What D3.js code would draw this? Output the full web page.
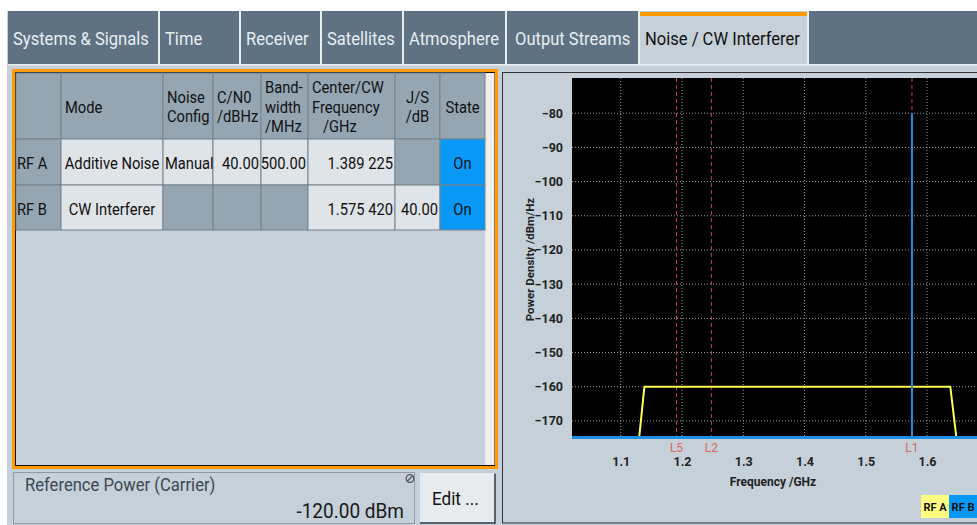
<!DOCTYPE html>
<html><head><meta charset="utf-8">
<script src="https://cdn.jsdelivr.net/npm/d3@7/dist/d3.min.js"></script>
<style>html,body{margin:0;padding:0;background:#fff;overflow:hidden}svg{display:block;font-family:Roboto,"Noto Sans",sans-serif}</style>
</head><body><svg id="c" width="977" height="525"></svg>
<script>
// ---------- data ----------
const tabs = ["Systems & Signals","Time","Receiver","Satellites","Atmosphere","Output Streams","Noise / CW Interferer"];
const activeTab = "Noise / CW Interferer";
const headers = [[""],["Mode"],["Noise","Config"],["C/N0","/dBHz"],["Band-","width","/MHz"],["Center/CW","Frequency","\u00a0\u00a0\u00a0/GHz"],["J/S","/dB"],["State"]];
const rowRFA = ["RF A","Additive Noise","Manual","40.00","500.00","1.389 225","","On"];
const rowRFB = ["RF B","CW Interferer","","","","1.575 420","40.00","On"];
const refPowerLabel = "Reference Power (Carrier)";
const refPowerValue = "-120.00 dBm";
const editLabel = "Edit ...";
const xTicks = [1.1,1.2,1.3,1.4,1.5,1.6];
const yTicks = [-80,-90,-100,-110,-120,-130,-140,-150,-160,-170];
const rfAFreq = [1.130,1.1386,1.638,1.648];
const rfAPower = [-175,-160,-160,-175];
const rfBFreq = [1.0204,1.57542,1.57542,1.57542,1.7583];
const rfBPower = [-175,-175,-80,-175,-175];
const markerNames = ["L5","L2","L1"];
const markerFreq = [1.191,1.248,1.5754];
const legendNames = ["RF A","RF B"];

// ---------- drawing ----------
const svg = d3.select("#c");
const C = {slate:"#5e7283", bg:"#c5d0d8", hdr:"#95a6b2", light:"#dfe4e8", on:"#0a98f7", orange:"#ff9a00"};

function txt(g, x, y, s, o){
  o = o||{};
  return g.append("text").attr("transform",`translate(${x},${y}) scale(${o.sx||1},1)`)
    .attr("text-anchor",o.anchor||"start").attr("font-size",o.size||15)
    .attr("font-weight",o.weight||"normal").attr("fill",o.fill||"#111").text(s);
}

svg.append("rect").attr("width",977).attr("height",525).attr("fill","#fff");
svg.append("rect").attr("x",8).attr("y",11).attr("width",969).attr("height",514).attr("fill",C.bg);
svg.append("line").attr("x1",7.5).attr("x2",7.5).attr("y1",11).attr("y2",525).attr("stroke","#c9d0d5");

// tabs
const tabEdges = [8,160,241,322,404,507,640,809];
svg.append("rect").attr("x",8).attr("y",11).attr("width",969).attr("height",53).attr("fill",C.slate);
const tg = svg.append("g");
tabs.forEach((t,i)=>{
  const x0 = tabEdges[i], x1 = tabEdges[i+1]-2;
  const act = t===activeTab;
  tg.append("rect").attr("x",x0).attr("y",11).attr("width",x1-x0).attr("height",53).attr("fill",act?C.bg:C.slate);
  if(act) tg.append("rect").attr("x",x0).attr("y",12).attr("width",x1-x0).attr("height",4).attr("fill",C.orange);
  const w = x1-x0;
  txt(tg, x0+(w>125&&!act&&i>0?8:5), 45, t, {size:18, sx:0.92, fill:act?"#111":"#e8eef2"});
});
tabEdges.slice(1).forEach(e=>svg.append("rect").attr("x",e-2).attr("y",11).attr("width",2).attr("height",53).attr("fill","#e9eef1"));
svg.append("rect").attr("x",8).attr("y",64).attr("width",969).attr("height",1.5).attr("fill","#e9eef1");

// left panel frame
svg.append("rect").attr("x",13.5).attr("y",70.5).attr("width",483).attr("height",397).attr("fill",C.bg).attr("stroke",C.orange).attr("stroke-width",3);
svg.append("rect").attr("x",15.5).attr("y",72.5).attr("width",479).attr("height",393).attr("fill",C.bg).attr("stroke","#111").attr("stroke-width",1);
svg.append("rect").attr("x",485).attr("y",73).attr("width",9.5).attr("height",392).attr("fill","#eeeeec");

// table
const colX = [16,61,163,213,261,308,395,440,485];
const rowY = [73,139,185,230];
const cellsG = svg.append("g"), textG = svg.append("g");
function cellFill(r,c,v){ if(r===0||c===0) return C.hdr; if(v==="On") return C.on; if(v==="") return C.hdr; return C.light; }
const rows = [headers,rowRFA,rowRFB];
const alignRow = ["start","middle","start","end","end","end","end","middle"];
const TS = {size:16, sx:0.92};
rows.forEach((row,r)=>{
  row.forEach((v,c)=>{
    const x0=colX[c], x1=colX[c+1], y0=rowY[r], y1=rowY[r+1];
    cellsG.append("rect").attr("x",x0).attr("y",y0).attr("width",x1-x0).attr("height",y1-y0)
      .attr("fill",cellFill(r,c,Array.isArray(v)?"h":v)).attr("stroke","#76838d").attr("stroke-width",1);
    if(r===0){
      const lines=v, n=lines.length, lh=19.5, yc=(y0+y1)/2+1;
      const centered = (c===6||c===7);
      lines.forEach((ln,k)=>{
        txt(textG, centered?(x0+x1)/2:x0+4, yc+(k-(n-1)/2)*lh+5.5, ln, {...TS, anchor:centered?"middle":"start"});
      });
    } else if(v!==""){
      const a = alignRow[c];
      const tx = a==="start"?x0+(c===0?1:2):a==="end"?x1-2:(x0+x1)/2;
      txt(textG, tx, (y0+y1)/2+7, v, {...TS, anchor:a});
    }
  });
});

// reference power box
svg.append("rect").attr("x",13.5).attr("y",472.5).attr("width",401).attr("height",51).attr("fill",C.bg).attr("stroke","#8f9ba4");
txt(svg, 25, 491, refPowerLabel, {size:17.5, sx:0.95, fill:"#3b4852"});
txt(svg, 404, 518, refPowerValue, {size:20, sx:0.95, anchor:"end", fill:"#1a1a1a"});
svg.append("circle").attr("cx",410).attr("cy",478.5).attr("r",3.8).attr("fill","none").attr("stroke","#555").attr("stroke-width",1.3);
svg.append("line").attr("x1",407.5).attr("y1",481).attr("x2",412.5).attr("y2",476).attr("stroke","#555").attr("stroke-width",1.3);
svg.append("rect").attr("x",420).attr("y",473).attr("width",75).attr("height",50).attr("fill","#e7ebee");
svg.append("path").attr("d","M495,473.5 V523 H420").attr("fill","none").attr("stroke","#56636d").attr("stroke-width",2);
txt(svg, 432, 505, editLabel, {size:19, sx:0.9, fill:"#111"});

// right panel
svg.append("rect").attr("x",502.5).attr("y",72.5).attr("width",480).attr("height",450.5).attr("fill",C.bg).attr("stroke","#333").attr("stroke-width",1);

// chart
const pl=572, pt=78, pb=438, pr=1024;
const x = d3.scaleLinear().domain([1.0204,1.7583]).range([pl,pr]);
const y = d3.scaleLinear().domain([-175,-69.7]).range([pb,pt]);
const ch = svg.append("g");
ch.append("rect").attr("x",pl).attr("y",pt).attr("width",pr-pl).attr("height",pb-pt).attr("fill","#000");
ch.selectAll(".gx").data(xTicks).join("line").attr("x1",d=>x(d)).attr("x2",d=>x(d)).attr("y1",pt).attr("y2",pb)
  .attr("stroke","#9a9a9a").attr("stroke-width",1).attr("stroke-dasharray","1,2");
ch.selectAll(".gy").data(yTicks).join("line").attr("x1",pl).attr("x2",pr).attr("y1",d=>y(d)).attr("y2",d=>y(d))
  .attr("stroke","#9a9a9a").attr("stroke-width",1).attr("stroke-dasharray","1,2");
ch.selectAll(".mk").data(markerFreq).join("line").attr("x1",d=>x(d)).attr("x2",d=>x(d)).attr("y1",pt).attr("y2",pb)
  .attr("stroke","#d23a3a").attr("stroke-width",1).attr("stroke-dasharray","4,3");
const line = d3.line().x(d=>x(d[0])).y(d=>y(d[1]));
ch.append("path").attr("d",line(rfAFreq.map((f,i)=>[f,rfAPower[i]]))).attr("fill","none").attr("stroke","#ffff4a").attr("stroke-width",2);
ch.append("path").attr("d",line(rfBFreq.map((f,i)=>[f,rfBPower[i]]))).attr("fill","none").attr("stroke","#1c8fe0").attr("stroke-width",2);
ch.append("line").attr("x1",pl).attr("x2",pr).attr("y1",y(-175)-0.5).attr("y2",y(-175)-0.5).attr("stroke","#1c8fe0").attr("stroke-width",3);

const ax = ch.append("g").attr("transform",`translate(${pl},0)`).call(d3.axisLeft(y).tickValues(yTicks).tickSize(0).tickPadding(9));
const bx = ch.append("g").attr("transform",`translate(0,${pb})`).call(d3.axisBottom(x).tickValues(xTicks).tickSize(0).tickPadding(19).tickFormat(d3.format(".1f")));
[ax,bx].forEach(g=>{g.select(".domain").remove(); g.selectAll("text").attr("font-size",12.5).attr("font-weight","bold").attr("fill","#222").attr("font-family","Roboto,sans-serif");});
ch.selectAll(".ml").data(markerNames).join("text").attr("x",(d,i)=>x(markerFreq[i])).attr("y",452)
  .attr("text-anchor","middle").attr("font-size",12).attr("fill","#e06464").text(d=>d);
ch.append("text").attr("x",773).attr("y",486).attr("text-anchor","middle").attr("font-size",12).attr("font-weight","bold").attr("fill","#222").text("Frequency /GHz");
ch.append("text").attr("transform","translate(530,259.5) rotate(-90)").attr("text-anchor","middle").attr("dy","0.35em")
  .attr("font-size",11.5).attr("font-weight","bold").attr("fill","#222").text("Power Density /dBm/Hz");
const legColors = ["#ffff80","#0a98f7"];
legendNames.forEach((n,i)=>{
  const lx = 921+i*28;
  ch.append("rect").attr("x",lx).attr("y",495).attr("width",28).attr("height",23).attr("fill",legColors[i]);
  ch.append("text").attr("x",lx+14).attr("y",510.5).attr("text-anchor","middle").attr("font-size",11).attr("font-weight","bold").attr("fill","#111").text(n);
});
</script></body></html>
